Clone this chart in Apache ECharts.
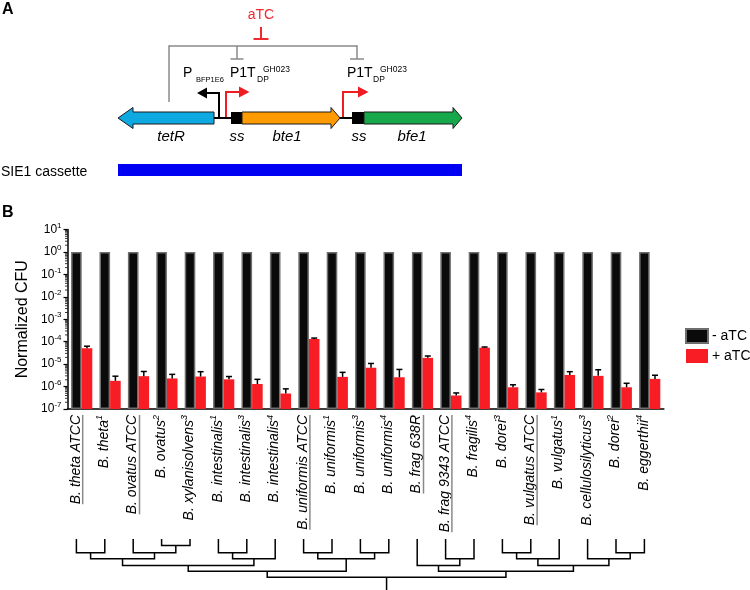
<!DOCTYPE html>
<html><head><meta charset="utf-8">
<script src="https://cdn.jsdelivr.net/npm/echarts@6/dist/echarts.min.js"></script>
<style>html,body{margin:0;padding:0;background:#fff}#c{width:750px;height:590px}</style>
</head><body><div id="c"></div>
<script>
// ---------- data ----------
const categories = ['B. theta ATCC','B. theta','B. ovatus ATCC','B. ovatus','B. xylanisolvens','B. intestinalis','B. intestinalis','B. intestinalis','B. uniformis ATCC','B. uniformis','B. uniformis','B. uniformis','B. frag 638R','B. frag 9343 ATCC','B. fragilis','B. dorei','B. vulgatus ATCC','B. vulgatus','B. cellulosilyticus','B. dorei','B. eggerthii'];
const superscripts = ['','1','','2','3','1','3','4','','1','3','4','','','4','3','','1','3','2','4'];
const underlined = [true,false,true,false,false,false,false,false,true,false,false,false,true,true,false,false,true,false,false,false,false];
const minusATC = [1,1,1,1,1,1,1,1,1,1,1,1,1,1,1,1,1,1,1,1,1];
const plusATC = [5.1e-5,1.8e-6,2.9e-6,2.3e-6,2.8e-6,2.1e-6,1.3e-6,4.9e-7,1.32e-4,2.7e-6,6.9e-6,2.6e-6,1.9e-5,4.0e-7,5.4e-5,9.3e-7,5.5e-7,3.3e-6,3.0e-6,9.3e-7,2.2e-6];
const plusATCErrTop = [6.3e-5,2.9e-6,4.7e-6,3.5e-6,4.6e-6,2.8e-6,2.1e-6,7.9e-7,1.45e-4,4.3e-6,1.07e-5,5.8e-6,2.3e-5,5.2e-7,5.8e-5,1.2e-6,7.4e-7,4.6e-6,5.6e-6,1.4e-6,3.2e-6];
const yTickExponents = [1,0,-1,-2,-3,-4,-5,-6,-7];
const seriesNames = ['- aTC','+ aTC'];
// dendrogram merges: [childA, childB, height]; leaves 0..20, new nodes 21..
const dendroMerges = [
  [0,1,2.15],[3,4,1],[2,22,2.15],[21,23,3.1],[5,6,2.15],[25,7,3.1],[24,26,4.15],
  [8,9,2.15],[10,11,2.15],[28,29,3.1],[27,30,5.05],
  [13,14,3.1],[12,32,4.15],[15,16,2.15],[34,17,3.1],[19,20,2.15],[18,36,3.1],[35,37,4.15],[33,38,5.05],
  [31,39,6]
];
const dendroRootEnd = 8;

// ---------- style ----------
const FONT = '"Liberation Sans", Arial, Helvetica, sans-serif';
const BAR_W = 10.6;
const RED = '#f81d24';
const GRAY = '#8a8a8a';
const GRID = {left: 67.5, top: 229.5, width: 596.4, height: 179.5};

const mctx = document.createElement('canvas').getContext('2d');
function textW(s){ mctx.font = 'italic 14px ' + FONT; return mctx.measureText(s).width; }

// ---------- dendrogram layout (from merges) ----------
const nodePos = {};
for (let i = 0; i < categories.length; i++) nodePos[i] = {x: i, h: 0};
const dendroItems = dendroMerges.map((m, k) => {
  const a = nodePos[m[0]], b = nodePos[m[1]];
  nodePos[categories.length + k] = {x: (a.x + b.x) / 2, h: m[2]};
  return [a.x, a.h, b.x, b.h, m[2]];
});
const rootNode = nodePos[categories.length + dendroMerges.length - 1];

// ---------- graphic (panel A) ----------
const G = [];
function L(x1,y1,x2,y2,c,w){ G.push({type:'line', shape:{x1,y1,x2,y2}, style:{stroke:c, lineWidth:w}, silent:true}); }
function T(t,x,y,o){ G.push({type:'text', x, y, style:Object.assign({text:t, fontFamily:FONT, fontSize:14, fill:'#000', align:'left', verticalAlign:'middle'}, o||{}), silent:true}); }
function P(pts,fill,stroke){ G.push({type:'polygon', shape:{points:pts}, style:{fill, stroke:stroke||null, lineWidth:stroke?1:0}, silent:true}); }
function PL(pts,c,w){ G.push({type:'polyline', shape:{points:pts}, style:{stroke:c, lineWidth:w, fill:null}, silent:true}); }

T('A', 2, 10, {fontSize:16, fontWeight:'bold'});
T('B', 2, 213, {fontSize:16, fontWeight:'bold'});
T('aTC', 261, 15, {align:'center', fill:'#ee2a2e'});
L(261,27,261,39,'#ee2a2e',2); L(253.5,39,268.5,39,'#ee2a2e',2);
L(169,46,357,46,GRAY,1.5); L(169,45.3,169,102,GRAY,1.5);
L(237,46,237,59,GRAY,1.5); L(230.5,59,243.5,59,GRAY,1.5);
L(357,45.3,357,59,GRAY,1.5); L(350,59,364,59,GRAY,1.5);
T('P', 183, 73); T('BFP1E6', 196, 80, {fontSize:7.5});
T('P1T', 230, 73); T('DP', 257, 80, {fontSize:8.5}); T('GH023', 263, 70, {fontSize:8.5});
T('P1T', 347, 73); T('DP', 373, 80, {fontSize:8.5}); T('GH023', 380, 70, {fontSize:8.5});
// promoters
PL([[219,118],[219,93],[206,93]],'#000',2); P([[207,87.5],[197,93],[207,98.5]],'#000');
PL([[226,118],[226,92],[240,92]],'#f01c24',2); P([[239,86.5],[249.5,92],[239,97.5]],'#f01c24');
PL([[343,118],[343,92],[359,92]],'#f01c24',2); P([[358,86.5],[368.5,92],[358,97.5]],'#f01c24');
L(214,118,231,118,'#000',2); L(339,118,352,118,'#000',2);
// genes
P([[214,112],[133,112],[133,107.5],[118,118],[133,128.5],[133,124],[214,124]],'#0ea9e0','#1a1a1a');
P([[231,112],[242,112],[242,124],[231,124]],'#000');
P([[242,112],[331,112],[331,107.5],[340,118],[331,128.5],[331,124],[242,124]],'#ff9a00','#1a1a1a');
P([[352,112],[364,112],[364,124],[352,124]],'#000');
P([[364,112],[453,112],[453,107.5],[462,118],[453,128.5],[453,124],[364,124]],'#16a84a','#1a1a1a');
T('tetR', 171, 137, {align:'center', fontStyle:'italic', fontSize:15});
T('ss', 237, 137, {align:'center', fontStyle:'italic', fontSize:15});
T('bte1', 287, 137, {align:'center', fontStyle:'italic', fontSize:15});
T('ss', 359, 137, {align:'center', fontStyle:'italic', fontSize:15});
T('bfe1', 412, 137, {align:'center', fontStyle:'italic', fontSize:15});
T('SIE1 cassette', 1, 172, {fontSize:14});
G.push({type:'rect', shape:{x:118, y:164, width:344, height:12}, style:{fill:'#0000f2'}, silent:true});

// ---------- chart ----------
const chart = echarts.init(document.getElementById('c'), null, {renderer:'canvas'});
const supRich = {
  b: {fontSize:12, fontFamily:FONT, color:'#000', lineHeight:16},
  s: {fontSize:8, fontFamily:FONT, color:'#000', verticalAlign:'top', lineHeight:9}
};
const labelRich = {
  n: {fontSize:14, fontFamily:FONT, fontStyle:'italic', fill:'#000', lineHeight:18},
  s: {fontSize:9, fontFamily:FONT, fontStyle:'italic', fill:'#000', verticalAlign:'top', lineHeight:10}
};

const option = {
  animation: false,
  backgroundColor: '#fff',
  graphic: G,
  legend: {
    data: seriesNames.map(n => ({name: n, icon: 'rect'})), orient: 'vertical', left: 685, top: 328, padding: 0,
    itemWidth: 22, itemHeight: 14, itemGap: 5,
    textStyle: {fontFamily: FONT, fontSize: 14, color: '#000', padding: [0, 0, 0, -1]}
  },
  grid: [
    Object.assign({}, GRID),
    {left: GRID.left, width: GRID.width, top: 539, height: 52}
  ],
  xAxis: [
    {type:'category', gridIndex:0, data: categories, axisLine:{lineStyle:{color:'#000', width:1.5}},
     axisTick:{show:false}, axisLabel:{show:false}, splitLine:{show:false}},
    {type:'value', gridIndex:1, min:-0.5, max:20.5, show:false}
  ],
  yAxis: [
    {type:'log', gridIndex:0, logBase:10, min:1e-7, max:10, interval:1, startValue:1e-7,
     name:'Normalized CFU', nameLocation:'middle', nameRotate:90, nameGap:33,
     nameTextStyle:{fontFamily:FONT, fontSize:16, color:'#000'},
     axisLine:{show:true, lineStyle:{color:'#000', width:1.5}},
     axisTick:{show:true, length:4, lineStyle:{color:'#000', width:1.2}},
     splitLine:{show:false},
     axisLabel:{margin:6, rich:supRich, formatter: v => {
        const e = Math.round(Math.log10(v));
        const ex = yTickExponents.find(t => t === e);
        return '{b|10}{s|' + ex + '}';
     }}},
    {type:'value', gridIndex:1, min:0, max:dendroRootEnd, inverse:true, show:false}
  ],
  series: [
    {name: seriesNames[0], type:'bar', xAxisIndex:0, yAxisIndex:0, data: minusATC, barWidth: BAR_W, barGap:'0%',
     itemStyle:{color:'#0a0a0a', borderColor:'#6e6e6e', borderWidth:1.5}},
    {name: seriesNames[1], type:'bar', xAxisIndex:0, yAxisIndex:0, data: plusATC, barWidth: BAR_W, barGap:'0%',
     itemStyle:{color:RED}},
    // error bars
    {type:'custom', xAxisIndex:0, yAxisIndex:0, silent:true, z:5,
     data: plusATC.map((v,i) => [i, v, plusATCErrTop[i]]),
     encode:{x:0, y:[1,2]},
     renderItem: (params, api) => {
       const i = api.value(0);
       const b = api.coord([i, api.value(1)]);
       const t = api.coord([i, api.value(2)]);
       const x = b[0] + BAR_W / 2;
       return {type:'group', children:[
         {type:'line', shape:{x1:x, y1:b[1], x2:x, y2:t[1]}, style:{stroke:'#000', lineWidth:1.5}},
         {type:'line', shape:{x1:x-3, y1:t[1], x2:x+3, y2:t[1]}, style:{stroke:'#000', lineWidth:1.5}}
       ]};
     }},
    // minor ticks on log y axis
    {type:'custom', xAxisIndex:0, yAxisIndex:0, silent:true, clip:false,
     data: [[0, 1]],
     renderItem: (params, api) => {
       const x0 = params.coordSys.x;
       const ch = [];
       for (let n = -7; n < 1; n++) for (let k = 2; k <= 9; k++) {
         const y = api.coord([0, k * Math.pow(10, n)])[1];
         ch.push({type:'line', shape:{x1:x0-2.5, y1:y, x2:x0, y2:y}, style:{stroke:'#000', lineWidth:0.8}});
       }
       return {type:'group', children: ch};
     }},
    // category labels (rotated, italic, superscript, underlines)
    {type:'custom', xAxisIndex:0, yAxisIndex:0, silent:true, clip:false,
     data: categories.map((c,i) => [i, 1e-7]),
     renderItem: (params, api) => {
       const i = api.value(0);
       const p = api.coord([i, 1e-7]);
       const ax = p[0] - 6, ay = p[1] + 6;
       const txt = '{n|' + categories[i] + '}' + (superscripts[i] ? '{s|' + superscripts[i] + '}' : '');
       const ch = [{type:'text', x:ax, y:ay, rotation:Math.PI/2,
         style:{text:txt, rich:labelRich, fontFamily:FONT, fontSize:14, fontStyle:'italic', fill:'#000', align:'right', verticalAlign:'middle'}}];
       if (underlined[i]) {
         const w = textW(categories[i]);
         ch.push({type:'line', shape:{x1:p[0]+1, y1:ay, x2:p[0]+1, y2:ay + w}, style:{stroke:'#8a8a8a', lineWidth:1.5}});
       }
       return {type:'group', children: ch};
     }},
    // dendrogram
    {type:'custom', xAxisIndex:1, yAxisIndex:1, silent:true, clip:false,
     data: dendroItems,
     renderItem: (params, api) => {
       const off = -BAR_W / 2;
       const a = api.coord([api.value(0), api.value(1)]);
       const b = api.coord([api.value(2), api.value(3)]);
       const m = api.coord([0, api.value(4)]);
       const ch = [{type:'polyline', shape:{points:[[a[0]+off, a[1]], [a[0]+off, m[1]], [b[0]+off, m[1]], [b[0]+off, b[1]]]},
                    style:{stroke:'#000', lineWidth:1.5, fill:null}}];
       if (params.dataIndex === dendroItems.length - 1) {
         const r = api.coord([rootNode.x, rootNode.h]);
         const e = api.coord([rootNode.x, dendroRootEnd]);
         ch.push({type:'line', shape:{x1:r[0]+off, y1:r[1], x2:r[0]+off, y2:e[1]}, style:{stroke:'#000', lineWidth:1.5}});
       }
       return {type:'group', children: ch};
     }}
  ]
};
chart.setOption(option);
</script></body></html>
